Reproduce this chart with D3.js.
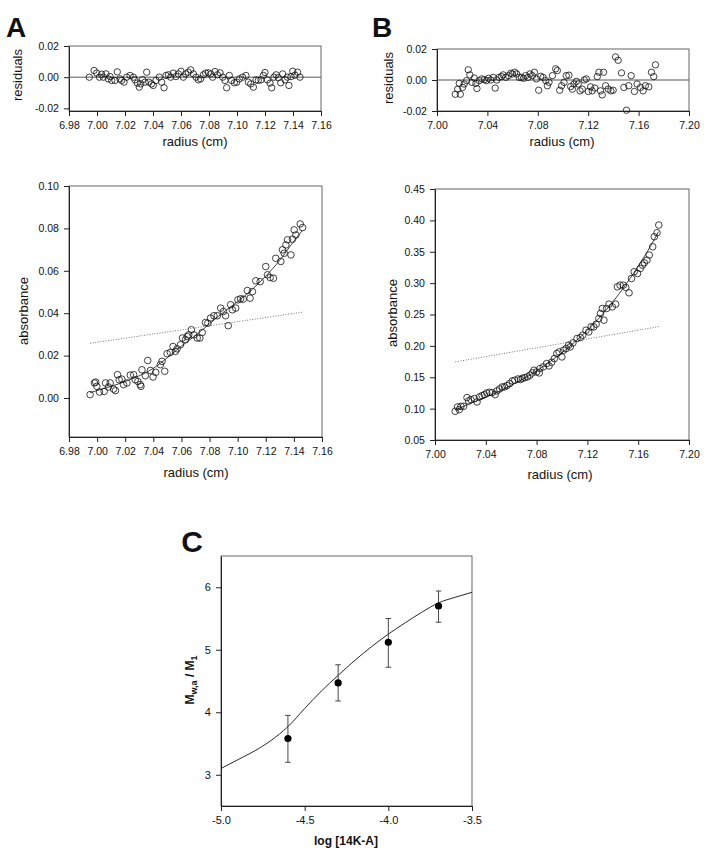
<!DOCTYPE html>
<html><head><meta charset="utf-8">
<script src="https://cdn.jsdelivr.net/npm/d3@7"></script>
<style>
body{margin:0;background:#fff;}
text{font-family:"Liberation Sans",Arial,sans-serif;fill:#111;}
</style></head>
<body>
<script>
// ---------- DATA ----------
// Panel A residuals
const resA_x = [6.9945,6.9979,6.9998,7.0017,7.0033,7.0045,7.0064,7.0081,7.0093,7.0105,7.0129,7.0145,7.0164,7.0176,7.0193,7.0212,7.0236,7.0260,7.0271,7.0288,7.0302,7.0312,7.0326,7.0343,7.0355,7.0371,7.0390,7.0402,7.0421,7.0445,7.0462,7.0479,7.0493,7.0510,7.0526,7.0545,7.0564,7.0581,7.0600,7.0617,7.0633,7.0652,7.0669,7.0688,7.0707,7.0724,7.0740,7.0760,7.0776,7.0795,7.0812,7.0826,7.0843,7.0860,7.0879,7.0898,7.0914,7.0926,7.0945,7.0962,7.0981,7.0998,7.1017,7.1040,7.1064,7.1081,7.1098,7.1117,7.1136,7.1152,7.1171,7.1188,7.1200,7.1217,7.1236,7.1248,7.1264,7.1279,7.1295,7.1312,7.1326,7.1343,7.1360,7.1371,7.1386,7.1398,7.1414,7.1433,7.1450];
const resA_y = [0,0.0043,0.0026,0,0.0019,0,0.0021,-0.0011,0.0004,-0.0021,-0.0021,0.0034,-0.0011,-0.0021,-0.0032,0,0.0011,0,-0.0017,-0.0038,-0.0064,-0.0043,-0.0015,-0.0032,0.0032,-0.0032,-0.0043,-0.0053,-0.0021,0,-0.0032,-0.0068,0.0011,0.0015,0,0.0026,0.0004,0.0021,0.0038,0,0.0021,0.0032,0.0047,0.0021,0,-0.0017,-0.0011,0.0015,0.0026,0.0028,0.0021,0,0.0036,0.0015,0.0028,0,-0.0021,-0.0068,0.0011,-0.0021,-0.0036,-0.0032,-0.0011,0,0.0011,-0.0032,-0.0043,-0.0064,-0.0017,-0.0021,-0.0017,0.0011,0.0030,-0.0017,-0.0038,-0.0068,0,0.0015,-0.0004,-0.0036,0.0021,-0.0017,0,-0.0053,0.0004,0.0038,0.0013,0.0032,0];
// Panel A absorbance
const absA_x = [6.9950,6.9981,6.9990,6.9998,7.0017,7.0050,7.0060,7.0081,7.0093,7.0117,7.0131,7.0145,7.0157,7.0176,7.0188,7.0212,7.0236,7.0260,7.0271,7.0290,7.0307,7.0312,7.0319,7.0343,7.0360,7.0379,7.0398,7.0417,7.0450,7.0462,7.0481,7.0498,7.0521,7.0540,7.0557,7.0569,7.0593,7.0607,7.0629,7.0640,7.0652,7.0671,7.0688,7.0712,7.0731,7.0748,7.0771,7.0788,7.0807,7.0831,7.0855,7.0879,7.0898,7.0914,7.0933,7.0950,7.0962,7.0986,7.1002,7.1021,7.1040,7.1069,7.1088,7.1105,7.1129,7.1160,7.1200,7.1212,7.1231,7.1255,7.1271,7.1307,7.1319,7.1331,7.1343,7.1355,7.1379,7.1390,7.1402,7.1414,7.1445,7.1462];
const absA_y = [0.0016,0.0071,0.0075,0.0055,0.0028,0.0031,0.0071,0.0052,0.0071,0.0042,0.0035,0.0110,0.0086,0.0089,0.0063,0.0071,0.0108,0.0110,0.0086,0.0078,0.0063,0.0055,0.0133,0.0105,0.0177,0.0130,0.0099,0.0121,0.0157,0.0173,0.0126,0.0209,0.0215,0.0243,0.0220,0.0232,0.0251,0.0283,0.0275,0.0290,0.0298,0.0322,0.0298,0.0283,0.0283,0.0309,0.0356,0.0353,0.0377,0.0388,0.0388,0.0424,0.0408,0.0388,0.0341,0.0440,0.0416,0.0424,0.0463,0.0468,0.0466,0.0507,0.0471,0.0502,0.0553,0.0549,0.0620,0.0581,0.0568,0.0565,0.0659,0.0644,0.0699,0.0683,0.0722,0.0746,0.0675,0.0749,0.0793,0.0769,0.0821,0.0804];
const fitA_x = [6.995,7.00,7.01,7.02,7.03,7.04,7.05,7.06,7.07,7.08,7.09,7.10,7.11,7.12,7.13,7.14,7.146];
const fitA_y = [0.0025,0.0035,0.0055,0.0078,0.0105,0.0140,0.0190,0.0245,0.0295,0.0350,0.0405,0.0455,0.0510,0.0575,0.0650,0.0740,0.0790];
const dotA_x = [6.995,7.146];
const dotA_y = [0.0258,0.0405];

// Panel B residuals
const resB_x = [7.0145,7.0164,7.0177,7.0185,7.0203,7.0216,7.0235,7.0248,7.0261,7.0277,7.0296,7.0309,7.0317,7.0335,7.0356,7.0375,7.0393,7.0409,7.0427,7.0446,7.0462,7.0475,7.0493,7.0512,7.0525,7.0546,7.0567,7.0586,7.0599,7.0617,7.0633,7.0652,7.0670,7.0686,7.0704,7.0723,7.0739,7.0757,7.0773,7.0789,7.0807,7.0823,7.0842,7.0863,7.0876,7.0889,7.0916,7.0942,7.0955,7.0974,7.0989,7.1008,7.1026,7.1047,7.1061,7.1074,7.1087,7.1106,7.1121,7.1135,7.1153,7.1169,7.1185,7.1201,7.1219,7.1232,7.1253,7.1272,7.1285,7.1298,7.1311,7.1322,7.1338,7.1359,7.1380,7.1398,7.1417,7.1438,7.1464,7.1483,7.1504,7.1522,7.1541,7.1567,7.1588,7.1615,7.1636,7.1654,7.1681,7.1702,7.1720,7.1734];
const resB_y = [-0.0092,-0.0059,-0.0022,-0.0092,-0.0048,-0.0026,-0.0004,0.0066,0.0033,-0.0015,0.0013,-0.0022,-0.0055,-0.0004,0.0007,0.0002,-0.0004,0.0011,0,0.0017,-0.0052,0,0.0017,0.0022,0.0033,0.0017,0.0028,0.0044,0.0039,0.0050,0.0039,0.0017,0.0017,0.0011,0.0028,0.0017,0.0039,0.0028,0.0050,0.0007,-0.0066,0.0024,0.0017,-0.0004,-0.0037,-0.0015,0.0028,0.0072,0.0061,-0.0066,-0.0037,-0.0015,0.0028,0.0031,-0.0042,-0.0059,-0.0026,-0.0009,-0.0026,-0.0070,-0.0059,0,0.0007,-0.0074,-0.0044,-0.0070,-0.0052,0.0022,0.0050,-0.0070,-0.0096,0.0050,-0.0037,-0.0059,-0.0070,-0.0066,0.0149,0.0127,0.0046,-0.0048,-0.0195,-0.0037,0.0028,-0.0074,-0.0026,-0.0048,-0.0070,-0.0037,-0.0044,0.0050,0.0022,0.0098];
// Panel B absorbance
const absB_x = [7.0159,7.0177,7.0191,7.0204,7.0225,7.0252,7.0265,7.0283,7.0310,7.0331,7.0350,7.0371,7.0389,7.0408,7.0429,7.0450,7.0474,7.0487,7.0509,7.0530,7.0548,7.0567,7.0588,7.0609,7.0628,7.0654,7.0673,7.0689,7.0707,7.0728,7.0747,7.0766,7.0779,7.0800,7.0821,7.0826,7.0853,7.0879,7.0898,7.0919,7.0940,7.0959,7.0977,7.0999,7.1012,7.1033,7.1052,7.1065,7.1086,7.1118,7.1144,7.1163,7.1189,7.1211,7.1229,7.1250,7.1269,7.1290,7.1303,7.1317,7.1330,7.1351,7.1370,7.1396,7.1423,7.1436,7.1457,7.1483,7.1502,7.1528,7.1547,7.1568,7.1595,7.1616,7.1634,7.1648,7.1669,7.1687,7.1714,7.1727,7.1748,7.1762];
const absB_y = [0.0957,0.1027,0.0984,0.1037,0.1037,0.1176,0.1122,0.1144,0.1160,0.1106,0.1186,0.1207,0.1223,0.1250,0.1261,0.1255,0.1223,0.1282,0.1314,0.1346,0.1346,0.1367,0.1399,0.1441,0.1452,0.1473,0.1463,0.1484,0.1495,0.1505,0.1532,0.1569,0.1612,0.1585,0.1569,0.1638,0.1665,0.1718,0.1681,0.1739,0.1798,0.1878,0.1904,0.1824,0.1931,0.1957,0.2011,0.1984,0.2048,0.2117,0.2133,0.2170,0.2250,0.2223,0.2303,0.2303,0.2346,0.2436,0.2516,0.2596,0.2410,0.2596,0.2665,0.2622,0.2665,0.2941,0.2968,0.2968,0.2931,0.2846,0.3074,0.3181,0.3154,0.3234,0.3287,0.3324,0.3367,0.3447,0.3580,0.3739,0.3803,0.3926];
const fitB_x = [7.016,7.03,7.04,7.05,7.06,7.07,7.08,7.09,7.10,7.11,7.12,7.13,7.14,7.15,7.16,7.17,7.176];
const fitB_y = [0.098,0.110,0.118,0.127,0.137,0.148,0.160,0.174,0.189,0.206,0.225,0.246,0.270,0.297,0.327,0.360,0.382];
const dotB_x = [7.016,7.177];
const dotB_y = [0.1745,0.231];

// Panel C
const cX = [-4.6,-4.3,-4.0,-3.7];
const cY = [3.58,4.47,5.12,5.70];
const cLo = [3.20,4.18,4.72,5.44];
const cHi = [3.95,4.76,5.50,5.94];
const curveC_x = [-5.0,-4.9,-4.8,-4.7,-4.6,-4.5,-4.4,-4.3,-4.2,-4.1,-4.0,-3.9,-3.8,-3.7,-3.6,-3.5];
const curveC_y = [3.10,3.24,3.38,3.55,3.77,4.06,4.34,4.59,4.83,5.05,5.25,5.43,5.60,5.75,5.84,5.92];

// Ticks
const ticksA_x = [6.98,7.00,7.02,7.04,7.06,7.08,7.10,7.12,7.14,7.16];
const ticksB_x = [7.00,7.04,7.08,7.12,7.16,7.20];
const ticksRes_y = [-0.02,0.00,0.02];
const ticksA_y = [0.00,0.02,0.04,0.06,0.08,0.10];
const ticksB_y = [0.05,0.10,0.15,0.20,0.25,0.30,0.35,0.40,0.45];
const ticksC_x = [-5.0,-4.5,-4.0,-3.5];
const ticksC_y = [3,4,5,6];

// ---------- DRAW ----------
const svg = d3.select("body").append("svg").attr("width",704).attr("height",853);
const FS = 10.5;

function frame(g, x, y, xt, yt, xfmt, yfmt, fs){
  const [x0,x1] = x.range(), [y0,y1] = y.range();
  g.append("rect").attr("x",x0).attr("y",y1).attr("width",x1-x0).attr("height",y0-y1)
    .attr("fill","none").attr("stroke","#555").attr("stroke-width",0.9);
  const ax = g.append("g").attr("transform",`translate(0,${y0})`)
    .call(d3.axisBottom(x).tickValues(xt).tickFormat(xfmt).tickSize(5).tickSizeOuter(0));
  const ay = g.append("g").attr("transform",`translate(${x0},0)`)
    .call(d3.axisLeft(y).tickValues(yt).tickFormat(yfmt).tickSize(5).tickSizeOuter(0));
  [ax,ay].forEach(a=>{
    a.select(".domain").attr("stroke","#222").attr("stroke-width",1);
    a.selectAll(".tick line").attr("stroke","#222");
    a.selectAll("text").attr("font-size",fs||FS).attr("font-family","Liberation Sans, Arial, sans-serif").attr("fill","#111");
  });
  ax.selectAll("text").attr("dy","0.95em");
  ay.selectAll("text").attr("dx","-0.2em");
}
function circles(g, x, y, xs, ys, r){
  g.append("g").selectAll("circle").data(xs.map((d,i)=>[d,ys[i]])).join("circle")
    .attr("cx",d=>x(d[0])).attr("cy",d=>y(d[1])).attr("r",r)
    .attr("fill","none").attr("stroke","#111").attr("stroke-width",0.8);
}
function line(g, x, y, xs, ys, opts){
  const l = d3.line().x(d=>x(d[0])).y(d=>y(d[1])).curve(d3.curveMonotoneX);
  const p = g.append("path").attr("d",l(xs.map((d,i)=>[d,ys[i]])))
    .attr("fill","none").attr("stroke",opts.color||"#111").attr("stroke-width",opts.w||0.8);
  if(opts.dash) p.attr("stroke-dasharray",opts.dash);
}
function label(x,y,txt,fs,rot,bold){
  const t = svg.append("text").attr("x",x).attr("y",y).attr("text-anchor","middle")
    .attr("font-size",fs).text(txt);
  if(bold) t.attr("font-weight","bold");
  if(rot) t.attr("transform",`rotate(-90,${x},${y})`);
  return t;
}
const f2 = d=>d.toFixed(2), f1 = d=>d.toFixed(1), f0 = d=>d.toFixed(0);

// Panel A residuals
{
  const g = svg.append("g");
  const x = d3.scaleLinear().domain([6.98,7.16]).range([69,321]);
  const y = d3.scaleLinear().domain([-0.0217,0.02]).range([111,46]);
  frame(g,x,y,ticksA_x,ticksRes_y,f2,f2);
  g.append("line").attr("x1",x(6.98)).attr("x2",x(7.16)).attr("y1",y(0)).attr("y2",y(0)).attr("stroke","#555").attr("stroke-width",1);
  circles(g,x,y,resA_x,resA_y,3.2);
  label(22,75,"residuals",13,true);
  label(195,146,"radius (cm)",13);
}
// Panel A absorbance
{
  const g = svg.append("g");
  const x = d3.scaleLinear().domain([6.98,7.16]).range([69,322]);
  const y = d3.scaleLinear().domain([-0.0184,0.10]).range([437,186]);
  frame(g,x,y,ticksA_x,ticksA_y,f2,f2);
  line(g,x,y,dotA_x,dotA_y,{color:"#666",dash:"1,1.6",w:0.9});
  line(g,x,y,fitA_x,fitA_y,{w:0.8});
  circles(g,x,y,absA_x,absA_y,3.3);
  label(28,311,"absorbance",13,true);
  label(196,477,"radius (cm)",13);
}
// Panel B residuals
{
  const g = svg.append("g");
  const x = d3.scaleLinear().domain([7.00,7.20]).range([437,689]);
  const y = d3.scaleLinear().domain([-0.02,0.02]).range([111,49]);
  frame(g,x,y,ticksB_x,ticksRes_y,f2,f2);
  g.append("line").attr("x1",x(7.0)).attr("x2",x(7.2)).attr("y1",y(0)).attr("y2",y(0)).attr("stroke","#555").attr("stroke-width",1);
  circles(g,x,y,resB_x,resB_y,3.2);
  label(393,78,"residuals",13,true);
  label(562,146,"radius (cm)",13);
}
// Panel B absorbance
{
  const g = svg.append("g");
  const x = d3.scaleLinear().domain([7.00,7.20]).range([435,689]);
  const y = d3.scaleLinear().domain([0.05,0.45]).range([440,189]);
  frame(g,x,y,ticksB_x,ticksB_y,f2,f2);
  line(g,x,y,dotB_x,dotB_y,{color:"#666",dash:"1,1.6",w:0.9});
  line(g,x,y,fitB_x,fitB_y,{w:0.8});
  circles(g,x,y,absB_x,absB_y,3.3);
  label(397,313,"absorbance",13,true);
  label(560,479,"radius (cm)",13);
}
// Panel C
{
  const g = svg.append("g");
  const x = d3.scaleLinear().domain([-5.0,-3.5]).range([221,472]);
  const y = d3.scaleLinear().domain([2.5,6.5]).range([806,556]);
  frame(g,x,y,ticksC_x,ticksC_y,f1,f0,11);
  line(g,x,y,curveC_x,curveC_y,{w:0.9});
  const pts = cX.map((d,i)=>({x:d,y:cY[i],lo:cLo[i],hi:cHi[i]}));
  const eb = g.append("g").attr("stroke","#333").attr("stroke-width",0.9);
  eb.selectAll(".v").data(pts).join("line").attr("x1",d=>x(d.x)).attr("x2",d=>x(d.x)).attr("y1",d=>y(d.lo)).attr("y2",d=>y(d.hi));
  eb.selectAll(".c1").data(pts).join("line").attr("x1",d=>x(d.x)-2.8).attr("x2",d=>x(d.x)+2.8).attr("y1",d=>y(d.lo)).attr("y2",d=>y(d.lo));
  eb.selectAll(".c2").data(pts).join("line").attr("x1",d=>x(d.x)-2.8).attr("x2",d=>x(d.x)+2.8).attr("y1",d=>y(d.hi)).attr("y2",d=>y(d.hi));
  g.append("g").selectAll("circle").data(pts).join("circle").attr("cx",d=>x(d.x)).attr("cy",d=>y(d.y)).attr("r",3.6).attr("fill","#000");
  label(346,845,"log [14K-A]",12,false,true);
  const t = svg.append("text").attr("x",194).attr("y",680).attr("text-anchor","middle")
    .attr("font-size",12).attr("font-weight","bold").attr("transform","rotate(-90,194,680)");
  t.append("tspan").text("M");
  t.append("tspan").attr("font-size",9).attr("dy",3).text("w,a");
  t.append("tspan").attr("dy",-3).text(" / M");
  t.append("tspan").attr("font-size",9).attr("dy",3).text("1");
}
// Panel letters
label(16,37,"A",28,false,true);
label(382,37,"B",28,false,true);
label(192,552,"C",30,false,true);
</script>
</body></html>
